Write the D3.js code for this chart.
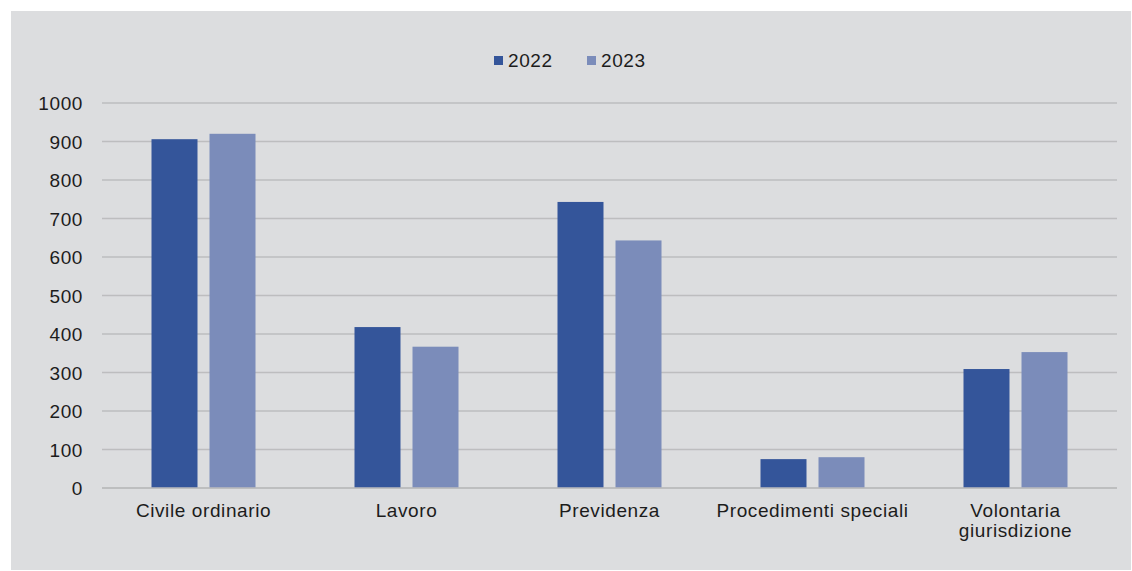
<!DOCTYPE html>
<html>
<head>
<meta charset="utf-8">
<script src="https://cdn.jsdelivr.net/npm/d3@7"></script>
<style>
  body { margin: 0; background: #fff; }
  text { font-family: "Liberation Sans", Arial, sans-serif; fill: #1c1c1c; }
  .axis text { font-size: 19px; letter-spacing: 0.6px; }
  .axis path, .axis line { display: none; }
</style>
</head>
<body>
<svg id="chart"></svg>
<script>
const categories = ['Civile ordinario', 'Lavoro', 'Previdenza', 'Procedimenti speciali', 'Volontaria giurisdizione'];
const seriesNames = ['2022', '2023'];
const values2022 = [906, 418, 743, 75, 309];
const values2023 = [920, 367, 643, 80, 353];
const yTicks = [0, 100, 200, 300, 400, 500, 600, 700, 800, 900, 1000];
const colors = ['#34559a', '#7b8cba'];

const W = 1132, H = 571;
const margin = {top: 103, bottom: 83, left: 102, right: 15};
const width = W - margin.left - margin.right;
const height = H - margin.top - margin.bottom;

const svg = d3.select('#chart').attr('width', W).attr('height', H);

// grey panel
svg.append('rect')
	.attr('x', 11).attr('y', 11)
	.attr('width', 1120).attr('height', 559)
	.attr('fill', '#dcdddf');

const g = svg.append('g').attr('transform', 'translate(' + margin.left + ',' + margin.top + ')');

const scaleX = d3.scaleBand().domain(categories).range([0, width]);
const scaleSeries = d3.scaleBand().domain(seriesNames).range([scaleX.bandwidth() / 2 - 52, scaleX.bandwidth() / 2 + 52]).paddingInner(0.207);
const scaleY = d3.scaleLinear().domain([0, 1000]).range([height, 0]);

// gridlines
g.selectAll('.grid')
	.data(yTicks)
	.enter()
	.append('line')
	.attr('x1', 0).attr('x2', width)
	.attr('y1', d => scaleY(d)).attr('y2', d => scaleY(d))
	.attr('stroke', '#bdbdbf')
	.attr('stroke-width', 1.6);

// y axis labels
g.append('g')
	.attr('class', 'axis axis--y')
	.call(d3.axisLeft(scaleY).tickValues(yTicks).tickFormat(d3.format('d')).tickSize(0).tickPadding(19))
	.selectAll('text').attr('dy', '0.35em');

// bars
const rows = categories.map((c, i) => ({cat: c, vals: [values2022[i], values2023[i]]}));
const groups = g.selectAll('.cat')
	.data(rows)
	.enter()
	.append('g')
	.attr('transform', d => 'translate(' + scaleX(d.cat) + ',0)');

groups.selectAll('rect')
	.data(d => d.vals.map((v, i) => ({s: seriesNames[i], v: v, i: i})))
	.enter()
	.append('rect')
	.attr('x', d => scaleSeries(d.s))
	.attr('y', d => scaleY(d.v))
	.attr('width', scaleSeries.bandwidth())
	.attr('height', d => height - scaleY(d.v))
	.attr('fill', d => colors[d.i]);

// x axis line redrawn on top
g.append('line')
	.attr('x1', 0).attr('x2', width)
	.attr('y1', height).attr('y2', height)
	.attr('stroke', '#bbbbbd')
	.attr('stroke-width', 1.6);

// x axis labels (wrap long ones)
const xAxis = g.append('g')
	.attr('class', 'axis axis--x')
	.attr('transform', 'translate(0,' + height + ')')
	.call(d3.axisBottom(scaleX).tickSize(0).tickPadding(0));

xAxis.selectAll('text').each(function(d) {
	const t = d3.select(this);
	t.text(null).attr('y', 0).attr('dy', null);
	const lines = d === 'Volontaria giurisdizione' ? ['Volontaria', 'giurisdizione'] : [d];
	lines.forEach((l, k) => {
		t.append('tspan').attr('x', 0).attr('y', 29 + k * 20).text(l);
	});
});

// legend
const legend = svg.append('g').attr('transform', 'translate(494,0)');
const legendX = [0, 93];
seriesNames.forEach((s, i) => {
	legend.append('rect')
		.attr('x', legendX[i]).attr('y', 56)
		.attr('width', 9).attr('height', 9)
		.attr('fill', colors[i]);
	legend.append('text')
		.attr('x', legendX[i] + 14).attr('y', 67)
		.style('font-size', '19px')
		.style('letter-spacing', '0.6px')
		.text(s);
});
</script>
</body>
</html>
